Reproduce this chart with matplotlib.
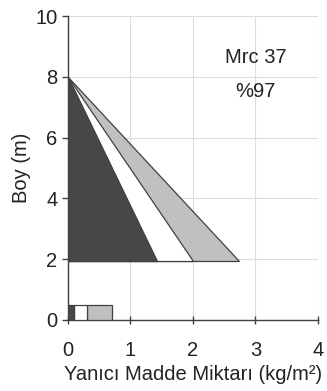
import matplotlib.pyplot as plt
from matplotlib.patches import Polygon, Rectangle

plt.rcParams['font.family'] = ['Liberation Sans', 'DejaVu Sans']

# crown fuel load triangles: apex height, crown base height, load at base
tepe = 8.0
taban = 1.95
yuk_tac = [2.73, 2.0, 1.43]          # gray, white, dark
renkler = ['#c0c0c0', 'white', '#474747']

# surface fuel bars (cumulative loads)
yuzey_bas = [0.3, 0.1, 0.0]
yuzey_son = [0.7, 0.3, 0.1]
yuzey_boy = 0.5

fig = plt.figure(figsize=(3.27, 3.91), dpi=100)
ax = fig.add_axes([0.208, 0.182, 0.764, 0.777])

for yk, r in zip(yuk_tac, renkler):
    ax.add_patch(Polygon([(0, tepe), (0, taban), (yk, taban)], closed=True,
                         facecolor=r, edgecolor='#404040', lw=0.9, zorder=3))

for b, s, r in zip(yuzey_bas, yuzey_son, renkler):
    ax.add_patch(Rectangle((b, 0), s - b, yuzey_boy, facecolor=r,
                           edgecolor='#404040', lw=0.9, zorder=3))

ax.set_xlim(0, 4)
ax.set_ylim(0, 10)
ax.set_xticks([0, 1, 2, 3, 4])
ax.set_yticks([0, 2, 4, 6, 8, 10])
ax.grid(True, color='#dcdcdc', lw=0.8, zorder=0)
ax.set_axisbelow(True)
for s in ['top', 'right']:
    ax.spines[s].set_visible(False)
for s in ['left', 'bottom']:
    ax.spines[s].set_color('#404040')
    ax.spines[s].set_linewidth(1.0)
ax.tick_params(colors='#404040', labelcolor='#222222', labelsize=14.5,
               length=4, width=1.0, direction='out')
ax.tick_params(axis='x', direction='inout', length=6, pad=12)

ax.set_xlabel('Yanıcı Madde Miktarı (kg/m²)', fontsize=14.5, color='#222222', labelpad=4)
ax.set_ylabel('Boy (m)', fontsize=14.5, color='#222222', labelpad=3)

ax.text(3.0, 8.65, 'Mrc 37', ha='center', va='center', fontsize=14.5, color='#222222')
ax.text(3.0, 7.5, '%97', ha='center', va='center', fontsize=14.5, color='#222222')

fig.savefig('out.png', dpi=100)
